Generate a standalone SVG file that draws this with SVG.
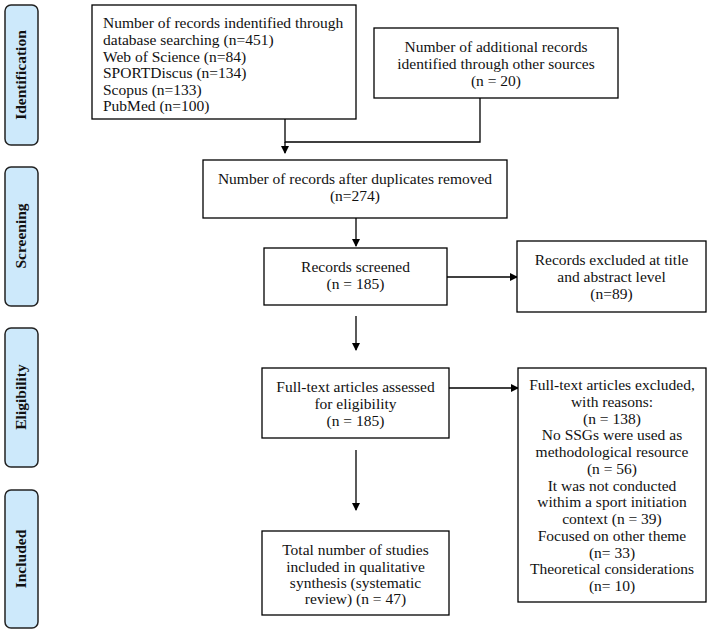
<svg xmlns="http://www.w3.org/2000/svg" width="711" height="634" viewBox="0 0 711 634">
<defs>
<marker id="ah" markerWidth="8" markerHeight="8" refX="7" refY="4" orient="auto" markerUnits="userSpaceOnUse">
<path d="M0,0 L8,4 L0,8 Z" fill="#000"/>
</marker>
<style>
.box{fill:#fff;stroke:#000;stroke-width:1.3}
.tab{fill:#cde9fb;stroke:#222;stroke-width:1.5}
.t{font-family:"Liberation Serif","Times New Roman",serif;font-size:15.5px;fill:#111}
.c{text-anchor:middle}
.tt{font-family:"Liberation Serif",serif;font-size:15.5px;font-weight:bold;fill:#111;text-anchor:middle}
.ln{fill:none;stroke:#000;stroke-width:1.3}
</style>
</defs>
<rect width="711" height="634" fill="#fff"/>
<g id="tab-identification"><rect class="tab" x="5" y="5" width="33" height="140" rx="6"/><text class="tt" transform="translate(26,75) rotate(-90)">Identification</text></g>
<g id="tab-screening"><rect class="tab" x="5" y="167" width="33" height="139" rx="6"/><text class="tt" transform="translate(26,236) rotate(-90)">Screening</text></g>
<g id="tab-eligibility"><rect class="tab" x="5" y="328" width="33" height="139" rx="6"/><text class="tt" transform="translate(26,397) rotate(-90)">Eligibility</text></g>
<g id="tab-included"><rect class="tab" x="5" y="490" width="33" height="138" rx="6"/><text class="tt" transform="translate(26,559) rotate(-90)">Included</text></g>

<g id="connectors">
<polyline class="ln" points="285,119 285,142 480,142 480,98"/>
<line class="ln" x1="285" y1="142" x2="285" y2="153" marker-end="url(#ah)"/>
<line class="ln" x1="356" y1="218" x2="356" y2="246" marker-end="url(#ah)"/>
<line class="ln" x1="447" y1="277" x2="517" y2="277" marker-end="url(#ah)"/>
<line class="ln" x1="356" y1="316" x2="356" y2="350" marker-end="url(#ah)"/>
<line class="ln" x1="449" y1="388" x2="518" y2="388" marker-end="url(#ah)"/>
<line class="ln" x1="356" y1="450" x2="356" y2="510" marker-end="url(#ah)"/>
</g>

<g id="n-database">
<rect class="box" x="92" y="5" width="264" height="114"/>
<text class="t"><tspan x="103" y="28">Number of records indentified through</tspan><tspan x="103" y="45">database searching (n=451)</tspan><tspan x="103" y="62">Web of Science (n=84)</tspan><tspan x="103" y="78">SPORTDiscus (n=134)</tspan><tspan x="103" y="95">Scopus (n=133)</tspan><tspan x="103" y="111">PubMed (n=100)</tspan></text>
</g>
<g id="n-additional">
<rect class="box" x="374" y="28" width="244" height="70"/>
<text class="t c"><tspan x="496" y="52">Number of additional records</tspan><tspan x="496" y="69">identified through other sources</tspan><tspan x="496" y="86">(n = 20)</tspan></text>
</g>
<g id="n-duplicates">
<rect class="box" x="203" y="160" width="304" height="58"/>
<text class="t c"><tspan x="355" y="184">Number of records after duplicates removed</tspan><tspan x="355" y="201">(n=274)</tspan></text>
</g>
<g id="n-screened">
<rect class="box" x="264" y="248" width="183" height="57"/>
<text class="t c"><tspan x="355.5" y="272">Records screened</tspan><tspan x="355.5" y="289">(n = 185)</tspan></text>
</g>
<g id="n-excluded-title">
<rect class="box" x="517" y="241" width="189" height="71"/>
<text class="t c"><tspan x="611.5" y="265">Records excluded at title</tspan><tspan x="611.5" y="282">and abstract level</tspan><tspan x="611.5" y="299">(n=89)</tspan></text>
</g>
<g id="n-fulltext">
<rect class="box" x="262" y="368" width="187" height="70"/>
<text class="t c"><tspan x="355.5" y="392">Full-text articles assessed</tspan><tspan x="355.5" y="409">for eligibility</tspan><tspan x="355.5" y="426">(n = 185)</tspan></text>
</g>
<g id="n-fulltext-excluded">
<rect class="box" x="518" y="368" width="188" height="234"/>
<text class="t c"><tspan x="612" y="390">Full-text articles excluded,</tspan><tspan x="612" y="407">with reasons:</tspan><tspan x="612" y="424">(n = 138)</tspan><tspan x="612" y="440">No SSGs were used as</tspan><tspan x="612" y="457">methodological resource</tspan><tspan x="612" y="474">(n = 56)</tspan><tspan x="612" y="491">It was not conducted</tspan><tspan x="612" y="507">withim a sport initiation</tspan><tspan x="612" y="524">context (n = 39)</tspan><tspan x="612" y="541">Focused on other theme</tspan><tspan x="612" y="558">(n= 33)</tspan><tspan x="612" y="574">Theoretical considerations</tspan><tspan x="612" y="591">(n= 10)</tspan></text>
</g>
<g id="n-included">
<rect class="box" x="262" y="531" width="187" height="84"/>
<text class="t c"><tspan x="355.5" y="555">Total number of studies</tspan><tspan x="355.5" y="572">included in qualitative</tspan><tspan x="355.5" y="588">synthesis (systematic</tspan><tspan x="355.5" y="604">review) (n = 47)</tspan></text>
</g>
</svg>
